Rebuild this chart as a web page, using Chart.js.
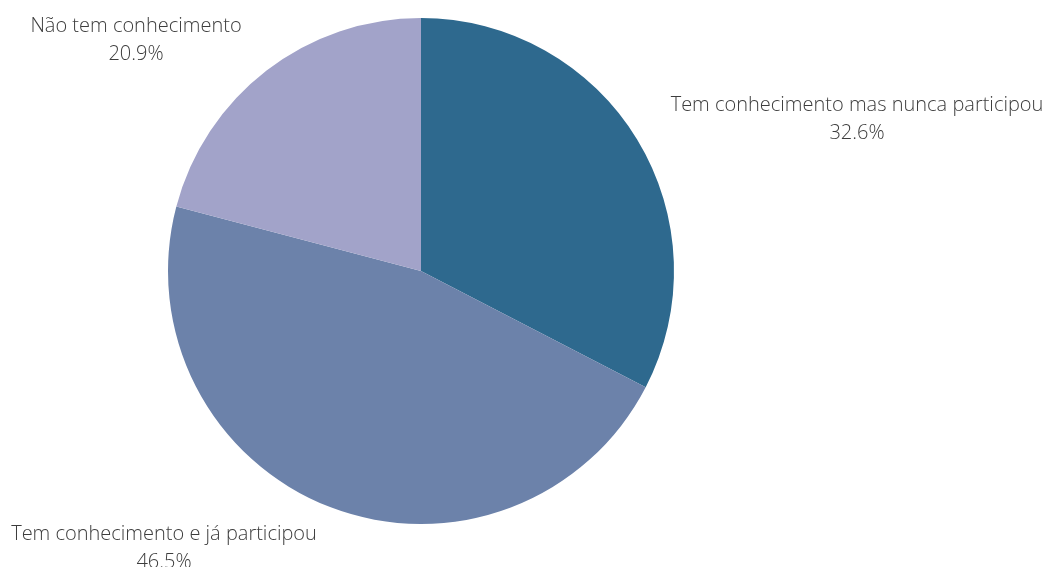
<!DOCTYPE html>
<html lang="pt">
<head>
    <meta charset="UTF-8">
    <title>Conhecimento</title>
    <script src="https://cdn.jsdelivr.net/npm/chart.js"></script>
    <style>
        html, body { margin: 0; padding: 0; background: #fff; }
        .chart-container { position: relative; width: 1045px; height: 567px; }
    </style>
</head>
<body>
    <div class="chart-container">
        <canvas id="pieChart"></canvas>
    </div>

    <script>
        const categories = ['Tem conhecimento mas nunca participou', 'Tem conhecimento e já participou', 'Não tem conhecimento'];
        const percentages = [32.6, 46.5, 20.9];
        const sliceColors = ['#2e698e', '#6c82aa', '#a2a3c9'];

        // label centre positions (x, y of first line)
        const labelPos = [[857, 105], [164, 534], [136, 26]];

        const outsideLabels = {
            id: 'outsideLabels',
            afterDatasetsDraw(chart) {
                const ctx = chart.ctx;
                ctx.save();
                ctx.font = '300 20px "Open Sans"';
                ctx.fillStyle = '#3d3d3d';
                ctx.textAlign = 'center';
                ctx.textBaseline = 'middle';
                categories.forEach((name, i) => {
                    const [x, y] = labelPos[i];
                    ctx.fillText(name, x, y);
                    ctx.fillText(percentages[i].toFixed(1) + '%', x, y + 28);
                });
                ctx.restore();
            }
        };

        new Chart(document.getElementById('pieChart'), {
            type: 'pie',
            data: {
                labels: categories,
                datasets: [{
                    data: percentages,
                    backgroundColor: sliceColors,
                    borderWidth: 0
                }]
            },
            options: {
                responsive: true,
                maintainAspectRatio: false,
                animation: false,
                layout: { padding: { left: 168, right: 371, top: 18, bottom: 43 } },
                plugins: {
                    legend: { display: false },
                    tooltip: { enabled: false }
                }
            },
            plugins: [outsideLabels]
        });
    </script>
</body>
</html>
